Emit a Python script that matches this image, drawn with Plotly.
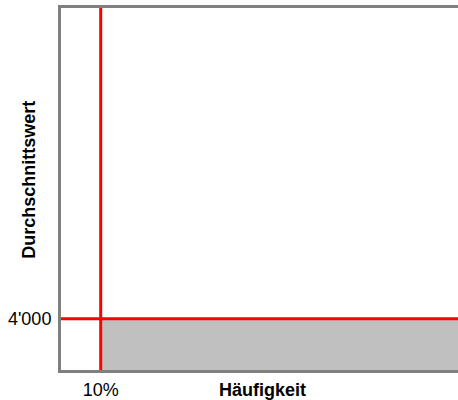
import plotly.graph_objects as go

# data
x_threshold = [0.1]          # Häufigkeit threshold (10%)
y_threshold = [4000]         # Durchschnittswert threshold
x_range = [0.0, 1.0]
y_range = [0, 28300]
x_tick_vals = [0.1]
x_tick_text = ["10%"]
y_tick_vals = [4000]
y_tick_text = ["4'000"]

fig = go.Figure()

# gray area to the right of the x threshold, below the y threshold
fig.add_trace(go.Scatter(
    x=[x_threshold[0], x_range[1]], y=[y_threshold[0], y_threshold[0]],
    mode="lines", line=dict(width=0), fill="tozeroy", fillcolor="#c0c0c0",
    hoverinfo="skip", showlegend=False))

# red threshold lines
fig.add_trace(go.Scatter(
    x=[x_range[0], x_range[1]], y=[y_threshold[0], y_threshold[0]],
    mode="lines", line=dict(color="#ff0000", width=3), showlegend=False))
fig.add_trace(go.Scatter(
    x=[x_threshold[0], x_threshold[0]], y=[y_range[0], y_range[1]],
    mode="lines", line=dict(color="#ff0000", width=3), showlegend=False))

font = "Liberation Sans, Arial, sans-serif"
fig.update_layout(
    width=458, height=400,
    margin=dict(l=61, r=0, t=8, b=30),
    paper_bgcolor="white", plot_bgcolor="white",
    font=dict(family=font, size=18, color="#000000"),
    xaxis=dict(range=x_range, showgrid=False, zeroline=False, automargin=False,
               showline=True, mirror=True, linecolor="#808080", linewidth=3,
               tickvals=x_tick_vals, ticktext=x_tick_text, ticks="",
               ticklabelstandoff=1),
    yaxis=dict(range=y_range, showgrid=False, zeroline=False, automargin=False,
               showline=True, mirror=False, linecolor="#808080", linewidth=3,
               tickvals=y_tick_vals, ticktext=y_tick_text, ticks="",
               ticklabelstandoff=3),
    annotations=[
        dict(text="<b>Häufigkeit</b>", xref="paper", yref="paper",
             x=0.508, y=-0.055, xanchor="center", yanchor="middle",
             showarrow=False, font=dict(size=18)),
        dict(text="<b>Durchschnittswert</b>", xref="paper", yref="paper",
             x=-0.081, y=0.525, xanchor="center", yanchor="middle",
             textangle=-90, showarrow=False, font=dict(size=18)),
    ],
)

fig.write_html("out.html", config={"displayModeBar": False},
               post_script="document.body.style.margin='0';document.body.style.overflow='hidden';")
